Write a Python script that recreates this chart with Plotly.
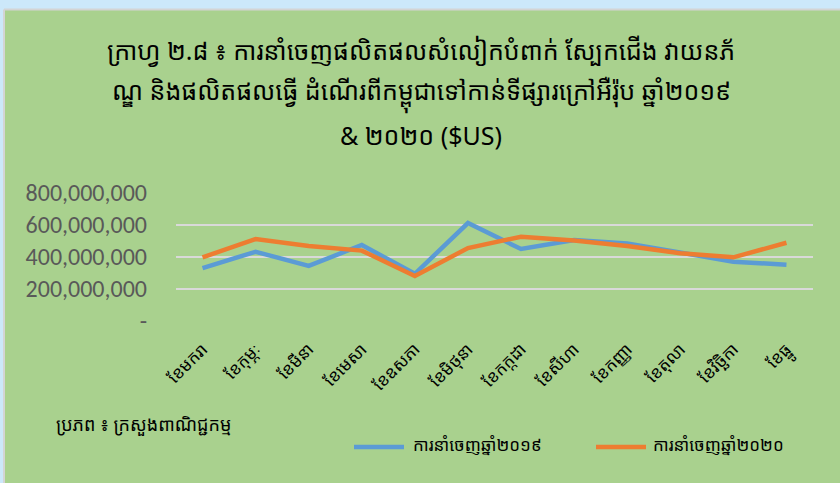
import plotly.graph_objects as go

months = ["ខែមករា", "ខែកុម្ភៈ", "ខែមីនា", "ខែមេសា", "ខែឧសភា", "ខែមិថុនា",
          "ខែកក្កដា", "ខែសីហា", "ខែកញ្ញា", "ខែតុលា", "ខែវិច្ឆិកា", "ខែធ្នូ"]
exports_2019 = [331e6, 433e6, 344e6, 475e6, 295e6, 612e6, 450e6, 506e6, 485e6, 427e6, 371e6, 352e6]
exports_2020 = [398e6, 512e6, 469e6, 440e6, 281e6, 456e6, 527e6, 503e6, 469e6, 423e6, 398e6, 489e6]
series_names = ["ការនាំចេញឆ្នាំ២០១៩", "ការនាំចេញឆ្នាំ២០២០"]
series_colors = ["#5B9BD5", "#ED7D31"]
y_ticks = [0, 200e6, 400e6, 600e6, 800e6]
y_tick_labels = ["-", "200,000,000", "400,000,000", "600,000,000", "800,000,000"]
title_lines = ["ក្រាហ្វ ២.៨ ៖ ការនាំចេញផលិតផលសំលៀកបំពាក់ ស្បែកជើង វាយនភ័",
               "ណ្ឌ និងផលិតផលធ្វើ ដំណើរពីកម្ពុជាទៅកាន់ទីផ្សារក្រៅអឺរ៉ុប ឆ្នាំ២០១៩",
               "& ២០២០ ($US)"]
source_text = "ប្រភព ៖ ក្រសួងពាណិជ្ជកម្ម"

FONT = "Noto Sans Khmer, Khmer OS, Khmer OS System, Noto Sans, DejaVu Sans"
W, H = 840, 483
ml, mr, mt, mb = 176, 27, 193, 162
PW, PH = W - ml - mr, H - mt - mb


def px_x(x):
    return (x - ml) / PW


def px_y(y):
    return (H - mb - y) / PH


fig = go.Figure()
for name, vals, col in zip(series_names, [exports_2019, exports_2020], series_colors):
    fig.add_trace(go.Scatter(x=months, y=vals, mode="lines", name=name,
                             line=dict(color=col, width=4.5), showlegend=False))

fig.update_layout(
    width=W, height=H,
    margin=dict(l=ml, r=mr, t=mt, b=mb, autoexpand=False),
    paper_bgcolor="#A9D18E", plot_bgcolor="#A9D18E",
    font=dict(family=FONT, color="#000000"),
    showlegend=False,
    xaxis=dict(showgrid=False, showline=False, zeroline=False, ticks="",
               tickangle=-45, tickfont=dict(size=17, color="#000000", family=FONT),
               ticklabelstandoff=14,
               range=[-0.5, 11.5], fixedrange=True, automargin=False),
    yaxis=dict(range=[0, 800e6], tickvals=y_ticks, ticktext=y_tick_labels,
               showgrid=True, gridcolor="#D9D9D9", gridwidth=1.5, zeroline=False,
               showline=False, ticks="", ticklabelstandoff=28, automargin=False,
               tickfont=dict(size=24, color="#595959", family="Carlito, Calibri, Liberation Sans Narrow, DejaVu Sans"),
               fixedrange=True),
)

# window border strips (top / left)
fig.add_shape(type="rect", xref="paper", yref="paper", x0=px_x(0), x1=px_x(W),
              y0=px_y(9), y1=px_y(0), fillcolor="#CCE8FA", line_width=0, layer="below")
fig.add_shape(type="rect", xref="paper", yref="paper", x0=px_x(0), x1=px_x(4),
              y0=px_y(H), y1=px_y(0), fillcolor="#CCE8FA", line_width=0, layer="below")
fig.add_shape(type="line", xref="paper", yref="paper", x0=px_x(4), x1=px_x(W),
              y0=px_y(9.5), y1=px_y(9.5), line=dict(color="#D4D4D4", width=2))
fig.add_shape(type="line", xref="paper", yref="paper", x0=px_x(4), x1=px_x(4),
              y0=px_y(H), y1=px_y(9.5), line=dict(color="#D4D4D4", width=2))

for line, ypx in zip(title_lines, [50, 93, 135]):
    fig.add_annotation(text=line, xref="paper", yref="paper", x=px_x(421), y=px_y(ypx),
                       xanchor="center", yanchor="middle", showarrow=False,
                       font=dict(size=25, color="#000000", family=FONT))

fig.add_annotation(text=source_text, xref="paper", yref="paper", x=px_x(143), y=px_y(424),
                   xanchor="center", yanchor="middle", showarrow=False,
                   font=dict(size=18, color="#000000", family=FONT))

# legend keys
for name, col, x0, xc in zip(series_names, series_colors, [352, 594], [477, 718]):
    fig.add_shape(type="line", xref="paper", yref="paper", x0=px_x(x0 + 2), x1=px_x(x0 + 52),
                  y0=px_y(447), y1=px_y(447), line=dict(color=col, width=4.5))
    fig.add_annotation(text=name, xref="paper", yref="paper", x=px_x(xc), y=px_y(444),
                       xanchor="center", yanchor="middle", showarrow=False,
                       font=dict(size=17, color="#000000", family=FONT))

fig.write_html("out.html", config={"displayModeBar": False},
               post_script="document.body.style.margin='0';document.body.style.overflow='hidden';")
